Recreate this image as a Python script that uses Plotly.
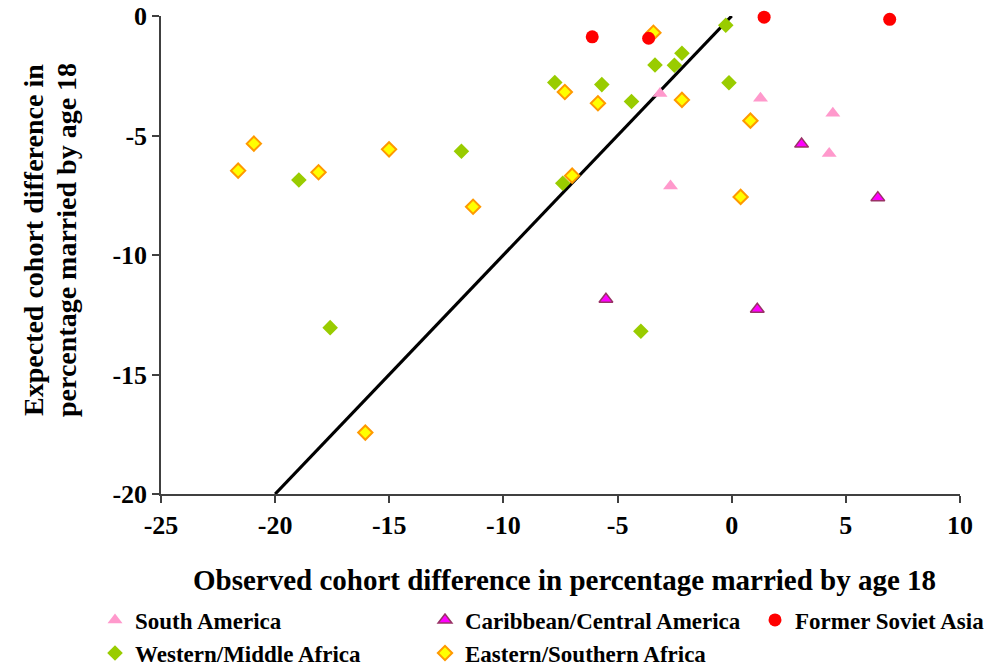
import plotly.graph_objects as go

# ---- data ----
sa_x = [-3.14, 1.26, 4.43, 4.27, -2.68]
sa_y = [-3.24, -3.44, -4.07, -5.75, -7.11]

cca_x = [3.06, 6.40, -5.51, 1.12]
cca_y = [-5.36, -7.60, -11.85, -12.27]

fsa_x = [-6.11, -3.64, 1.42, 6.92]
fsa_y = [-0.87, -0.93, -0.05, -0.14]

wma_x = [-0.26, -2.18, -3.36, -2.51, -7.75, -5.69, -0.12, -4.39, -7.40, -18.96, -11.84, -17.59, -3.98]
wma_y = [-0.39, -1.56, -2.05, -2.06, -2.78, -2.87, -2.79, -3.58, -7.00, -6.86, -5.66, -13.04, -13.19]

esa_x = [-3.43, -7.31, -5.86, -2.18, 0.82, -6.99, 0.39, -20.93, -21.62, -18.10, -15.01, -11.33, -16.05]
esa_y = [-0.70, -3.18, -3.65, -3.51, -4.38, -6.68, -7.57, -5.34, -6.47, -6.54, -5.58, -7.98, -17.43]

line_x = [-20, 0]
line_y = [-20, 0]

x_ticks = [-25, -20, -15, -10, -5, 0, 5, 10]
y_ticks = [0, -5, -10, -15, -20]

FONT = "Liberation Serif"
OFF = 0  # page body margin removed by post_script
W, H = 997 - OFF, 666 - OFF
PL, PR, PT, PB = 161, 960, 16, 494  # plot area in window pixels
L, R, T, B = PL - OFF, 997 - PR, PT - OFF, 666 - PB
PW, PH = PR - PL, PB - PT

fig = go.Figure()

fig.add_trace(go.Scatter(x=line_x, y=line_y, mode="lines",
                         line=dict(color="black", width=3.2),
                         showlegend=False, hoverinfo="skip"))

def add(name, xs, ys, symbol, fill, outline, lw, size, legend):
    fig.add_trace(go.Scatter(
        x=xs, y=ys, mode="markers", name=f"<b>{name}</b>", legend=legend,
        cliponaxis=False,
        marker=dict(symbol=symbol, color=fill, size=size,
                    line=dict(color=outline, width=lw))))

add("Western/Middle Africa", wma_x, wma_y, "diamond", "#99CC00", "#99CC00", 0, 12, "legend4")
add("Eastern/Southern Africa", esa_x, esa_y, "diamond", "#FFFF00", "#FF9900", 2, 11, "legend5")
add("South America", sa_x, sa_y, "triangle-up", "#FF99CC", "#FF99CC", 0, 13, "legend")
add("Caribbean/Central America", cca_x, cca_y, "triangle-up", "#FF00FF", "#993366", 1.5, 12, "legend2")
add("Former Soviet Asia", fsa_x, fsa_y, "circle", "#FF0000", "#FF0000", 0, 13, "legend3")

def leg(text_x, cy):
    return dict(xref="container", yref="container",
                x=(text_x - OFF - 40) / W, y=1 - (cy - OFF) / H,
                xanchor="left", yanchor="middle",
                bgcolor="rgba(0,0,0,0)", borderwidth=0,
                font=dict(family=FONT, size=23, color="black"))

def px_x(p):
    return (p - PL) / PW

def px_y(p):
    return 1 - (p - PT) / PH

def ylab(text, cx):
    return dict(text=f"<b>{text}</b>", xref="paper", yref="paper",
                x=px_x(cx), y=px_y(240), xanchor="center", yanchor="middle",
                showarrow=False, textangle=-90,
                font=dict(family=FONT, size=28, color="black"))

fig.update_layout(
    width=W, height=H,
    margin=dict(l=L, r=R, t=T, b=B, autoexpand=False),
    plot_bgcolor="white", paper_bgcolor="white",
    font=dict(family=FONT, color="black"),
    showlegend=True,
    legend=leg(135, 620),
    legend2=leg(465, 620),
    legend3=leg(795, 620),
    legend4=leg(135, 653),
    legend5=leg(465, 653),
    xaxis=dict(range=[-25, 10], tickvals=x_ticks, ticktext=[f"<b>{v}</b>" for v in x_ticks],
               showgrid=False, zeroline=False, showline=True, linecolor="#404040", linewidth=1.5,
               ticks="outside", ticklen=7, tickcolor="#404040", tickwidth=1.5,
               ticklabeloverflow="allow",
               tickfont=dict(family=FONT, size=26, color="black"), automargin=False),
    yaxis=dict(range=[-20, 0], tickvals=y_ticks, ticktext=[f"<b>{v}</b>" for v in y_ticks],
               showgrid=False, zeroline=False, showline=True, linecolor="#404040", linewidth=1.5,
               ticks="outside", ticklen=7, tickcolor="#404040", tickwidth=1.5,
               ticklabeloverflow="allow",
               tickfont=dict(family=FONT, size=26, color="black"), automargin=False),
    annotations=[
        dict(text="<b>Observed cohort difference in percentage married by age 18</b>",
             xref="paper", yref="paper", x=px_x(564), y=px_y(580),
             xanchor="center", yanchor="middle", showarrow=False,
             font=dict(family=FONT, size=29, color="black")),
        ylab("Expected cohort difference in", 33),
        ylab("percentage married by age 18", 66),
    ],
)

fig.write_html("out.html",
               config={"displayModeBar": False},
               post_script="document.body.style.margin='0';document.body.style.overflow='hidden';")
